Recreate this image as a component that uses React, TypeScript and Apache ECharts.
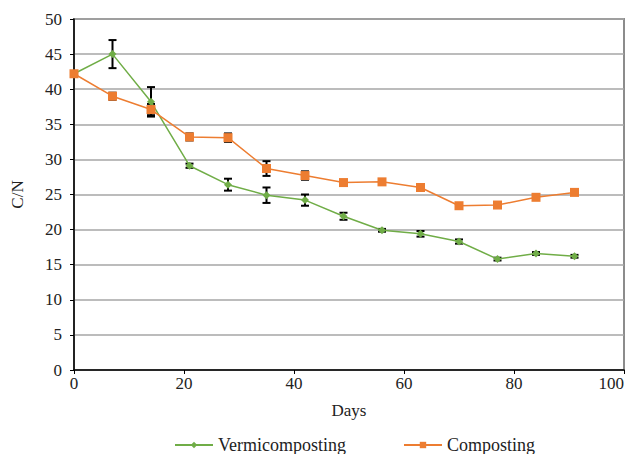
import React, { useEffect, useRef } from "react";
import * as echarts from "echarts";

const days = [0, 7, 14, 21, 28, 35, 42, 49, 56, 63, 70, 77, 84, 91];
const vermiValues = [42.2, 45.0, 38.2, 29.1, 26.4, 24.9, 24.2, 21.9, 19.9, 19.4, 18.3, 15.8, 16.6, 16.2];
const vermiErrors = [0.3, 2.0, 2.1, 0.3, 0.85, 1.1, 0.8, 0.5, 0.2, 0.4, 0.3, 0.2, 0.2, 0.2];
const compostValues = [42.2, 39.0, 37.1, 33.2, 33.1, 28.7, 27.7, 26.7, 26.8, 26.0, 23.4, 23.5, 24.6, 25.3];
const compostErrors = [0.3, 0.5, 0.8, 0.5, 0.6, 1.05, 0.6, 0.2, 0.3, 0.2, 0.2, 0.2, 0.2, 0.2];

const FONT = "Liberation Serif";
const GREEN = "#70ad47";
const ORANGE = "#ed7d31";
const TEXT = "#222";

function errorSeries(values: number[], errors: number[]) {
  return {
    type: "custom",
    silent: true,
    z: 1,
    data: days.map((d, i) => [d, values[i] - errors[i], values[i] + errors[i]]),
    renderItem: (params: any, api: any) => {
      const x = api.value(0);
      const lo = api.coord([x, api.value(1)]);
      const hi = api.coord([x, api.value(2)]);
      const w = 4;
      const style = { stroke: "#000", lineWidth: 2 };
      return {
        type: "group",
        children: [
          { type: "line", shape: { x1: lo[0], y1: lo[1], x2: hi[0], y2: hi[1] }, style },
          { type: "line", shape: { x1: lo[0] - w, y1: lo[1], x2: lo[0] + w, y2: lo[1] }, style },
          { type: "line", shape: { x1: hi[0] - w, y1: hi[1], x2: hi[0] + w, y2: hi[1] }, style },
        ],
      };
    },
  };
}

export default function App() {
  const ref = useRef<HTMLDivElement>(null);
  useEffect(() => {
    const chart = echarts.init(ref.current!, null, { renderer: "svg" });
    chart.setOption({
      animation: false,
      textStyle: { fontFamily: FONT },
      grid: {
        left: 74,
        right: 8,
        top: 19,
        bottom: 84,
        outerBoundsMode: "none",
        containLabel: false,
        show: true,
        borderColor: "#8c8c8c",
        borderWidth: 2,
      },
      xAxis: {
        type: "value",
        min: 0,
        max: 100,
        interval: 20,
        name: "Days",
        nameLocation: "middle",
        nameGap: 32,
        nameTextStyle: { fontFamily: FONT, fontSize: 17, color: TEXT },
        axisLine: { lineStyle: { color: "#000", width: 1.5 } },
        axisTick: { show: true, length: 4, lineStyle: { color: "#000" } },
        axisLabel: { fontFamily: FONT, fontSize: 17, color: TEXT, margin: 5, alignMaxLabel: "right" },
        splitLine: { show: false },
      },
      yAxis: {
        type: "value",
        min: 0,
        max: 50,
        interval: 5,
        name: "C/N",
        nameLocation: "middle",
        nameGap: 48,
        nameTextStyle: { fontFamily: FONT, fontSize: 17, color: TEXT },
        axisLine: { show: true, lineStyle: { color: "#000", width: 1.5 } },
        axisTick: { show: true, length: 4, lineStyle: { color: "#000" } },
        axisLabel: { fontFamily: FONT, fontSize: 17, color: TEXT, margin: 12 },
        splitLine: { lineStyle: { color: "#a6a6a6", width: 1.5 } },
      },
      legend: {
        top: 435,
        left: 174,
        padding: 0,
        itemWidth: 38,
        itemHeight: 8,
        itemGap: 57,
        textStyle: { fontFamily: FONT, fontSize: 18, lineHeight: 20, color: TEXT },
        data: ["Vermicomposting", "Composting"],
      },
      series: [
        errorSeries(vermiValues, vermiErrors),
        errorSeries(compostValues, compostErrors),
        {
          name: "Vermicomposting",
          type: "line",
          z: 3,
          data: days.map((d, i) => [d, vermiValues[i]]),
          symbol: "diamond",
          symbolSize: 8,
          itemStyle: { color: GREEN },
          lineStyle: { color: GREEN, width: 1.5 },
        },
        {
          name: "Composting",
          type: "line",
          z: 3,
          data: days.map((d, i) => [d, compostValues[i]]),
          symbol: "rect",
          symbolSize: 9,
          itemStyle: { color: ORANGE },
          lineStyle: { color: ORANGE, width: 1.5 },
        },
      ],
    });
    return () => chart.dispose();
  }, []);
  return (
    <div
      ref={ref}
      style={{ position: "fixed", left: 0, top: 0, width: 632, height: 454, background: "#fff" }}
    />
  );
}
